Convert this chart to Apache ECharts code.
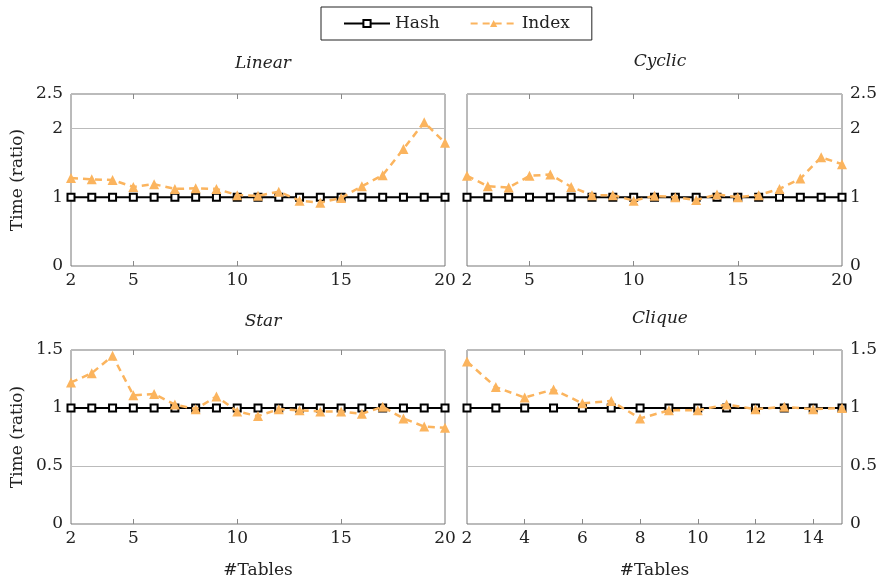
<!DOCTYPE html>
<html>
<head>
<meta charset="utf-8">
<script src="https://cdn.jsdelivr.net/npm/echarts@6/dist/echarts.min.js"></script>
<style>
  html, body { margin: 0; padding: 0; background: #fff; }
  #main { width: 888px; height: 584px; }
</style>
</head>
<body>
<div id="main"></div>
<script>
// x values (#Tables)
var xLong = [2, 3, 4, 5, 6, 7, 8, 9, 10, 11, 12, 13, 14, 15, 16, 17, 18, 19, 20];
var xClique = [2, 3, 4, 5, 6, 7, 8, 9, 10, 11, 12, 13, 14, 15];

// Hash is the baseline (ratio 1)
var hashLinear = [1, 1, 1, 1, 1, 1, 1, 1, 1, 1, 1, 1, 1, 1, 1, 1, 1, 1, 1];
var hashCyclic = [1, 1, 1, 1, 1, 1, 1, 1, 1, 1, 1, 1, 1, 1, 1, 1, 1, 1, 1];
var hashStar = [1, 1, 1, 1, 1, 1, 1, 1, 1, 1, 1, 1, 1, 1, 1, 1, 1, 1, 1];
var hashClique = [1, 1, 1, 1, 1, 1, 1, 1, 1, 1, 1, 1, 1, 1];

// Index vs Hash
var indexLinear = [1.28, 1.26, 1.25, 1.15, 1.19, 1.12, 1.13, 1.12, 1.03, 1.02, 1.08, 0.95, 0.92, 0.99, 1.16, 1.32, 1.70, 2.09, 1.79];
var indexCyclic = [1.31, 1.16, 1.14, 1.31, 1.33, 1.15, 1.03, 1.03, 0.95, 1.02, 1.0, 0.96, 1.04, 1.0, 1.03, 1.12, 1.27, 1.58, 1.48];
var indexStar = [1.22, 1.30, 1.45, 1.11, 1.12, 1.03, 0.99, 1.10, 0.97, 0.93, 0.99, 0.98, 0.97, 0.97, 0.95, 1.01, 0.91, 0.84, 0.83];
var indexClique = [1.40, 1.18, 1.09, 1.16, 1.04, 1.06, 0.91, 0.98, 0.98, 1.03, 0.99, 1.01, 0.99, 1.0];

var titles = ['Linear', 'Cyclic', 'Star', 'Clique'];
var xLabelsLong = [2, 5, 10, 15, 20];
var xTicksLong = [5, 10, 15];
var xLabelsClique = [2, 4, 6, 8, 10, 12, 14];
var xTicksClique = [4, 6, 8, 10, 12, 14];
var yLabelsTop = [0, 1, 2, 2.5];
var yLabelsBottom = [0, 0.5, 1, 1.5];

var FONT = 'DejaVu Serif';
var ORANGE = '#fbb45e';

function pairs(xs, ys) {
  return xs.map(function (x, i) { return [x, ys[i]]; });
}

var grids = [
  { left: 71, right: 443, top: 94, height: 172 },
  { left: 467, right: 46, top: 94, height: 172 },
  { left: 71, right: 443, top: 350, height: 174 },
  { left: 467, right: 46, top: 350, height: 174 }
].map(function (g) {
  return Object.assign({ show: true, borderColor: '#777', borderWidth: 1, backgroundColor: 'transparent' }, g);
});

var xAxes = [], yAxes = [], series = [];
var panels = [
  { xs: xLong, hash: hashLinear, idx: indexLinear, max: 20, labels: xLabelsLong, ticks: xTicksLong, ymax: 2.5, yint: 1, ylab: yLabelsTop, side: 'left', xname: '' },
  { xs: xLong, hash: hashCyclic, idx: indexCyclic, max: 20, labels: xLabelsLong, ticks: xTicksLong, ymax: 2.5, yint: 1, ylab: yLabelsTop, side: 'right', xname: '' },
  { xs: xLong, hash: hashStar, idx: indexStar, max: 20, labels: xLabelsLong, ticks: xTicksLong, ymax: 1.5, yint: 0.5, ylab: yLabelsBottom, side: 'left', xname: '#Tables' },
  { xs: xClique, hash: hashClique, idx: indexClique, max: 15, labels: xLabelsClique, ticks: xTicksClique, ymax: 1.5, yint: 0.5, ylab: yLabelsBottom, side: 'right', xname: '#Tables' }
];

panels.forEach(function (p, i) {
  // bottom x axis with labels
  xAxes.push({
    gridIndex: i, type: 'value', min: 2, max: p.max, position: 'bottom',
    name: p.xname, nameLocation: 'middle', nameGap: 38,
    nameTextStyle: { fontFamily: FONT, fontSize: 17, color: '#222' },
    axisLine: { show: false },
    axisTick: { show: true, inside: true, length: 5, lineStyle: { color: '#888' }, customValues: p.ticks },
    axisLabel: { fontFamily: FONT, fontSize: 17, color: '#222', margin: 6, customValues: p.labels },
    splitLine: { show: false }
  });
  // top x axis, ticks only
  xAxes.push({
    gridIndex: i, type: 'value', min: 2, max: p.max, position: 'top',
    axisLine: { show: false },
    axisTick: { show: true, inside: true, length: 5, lineStyle: { color: '#888' }, customValues: p.ticks },
    axisLabel: { show: false },
    splitLine: { show: false }
  });
  yAxes.push({
    gridIndex: i, type: 'value', min: 0, max: p.ymax, interval: p.yint, position: p.side,
    name: p.side === 'left' ? 'Time (ratio)' : '',
    nameLocation: 'middle', nameGap: 45, nameRotate: 90,
    nameTextStyle: { fontFamily: FONT, fontSize: 17, color: '#222' },
    axisLine: { show: false },
    axisTick: { show: false },
    axisLabel: { fontFamily: FONT, fontSize: 17, color: '#222', margin: 8, customValues: p.ylab },
    splitLine: { show: true, lineStyle: { color: '#bbb', width: 1 } }
  });
  series.push({
    name: 'Hash', type: 'line', xAxisIndex: i * 2, yAxisIndex: i,
    data: pairs(p.xs, p.hash),
    symbol: 'rect', symbolSize: 7, showSymbol: true,
    lineStyle: { color: '#000', width: 2 },
    itemStyle: { color: '#fff', borderColor: '#000', borderWidth: 2 },
    z: 3
  });
  series.push({
    name: 'Index', type: 'line', xAxisIndex: i * 2, yAxisIndex: i,
    data: pairs(p.xs, p.idx),
    symbol: 'triangle', symbolSize: 10,
    lineStyle: { color: ORANGE, width: 2.5, type: [7, 5] },
    itemStyle: { color: ORANGE },
    z: 4
  });
});

var titleCenters = [
  { left: 258, top: 50 }, { left: 655, top: 48 },
  { left: 258, top: 308 }, { left: 655, top: 305 }
];

var chart = echarts.init(document.getElementById('main'), null, { renderer: 'canvas' });
chart.setOption({
  animation: false,
  title: titles.map(function (t, i) {
    return {
      text: t, left: titleCenters[i].left, top: titleCenters[i].top, textAlign: 'center',
      textStyle: { fontFamily: FONT, fontStyle: 'italic', fontWeight: 'normal', fontSize: 17, color: '#222' }
    };
  }),
  legend: {
    data: ['Hash', 'Index'],
    top: 7, left: 321,
    itemWidth: 46, itemHeight: 9, itemGap: 30,
    padding: [8, 22, 8, 22],
    borderColor: '#222', borderWidth: 1, borderRadius: 0,
    textStyle: { fontFamily: FONT, fontSize: 17, color: '#222' }
  },
  grid: grids,
  xAxis: xAxes,
  yAxis: yAxes,
  series: series
});
</script>
</body>
</html>
